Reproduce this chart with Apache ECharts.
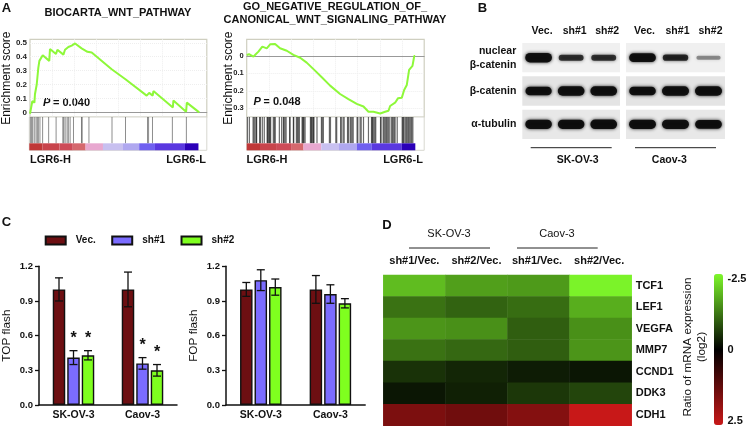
<!DOCTYPE html>
<html><head><meta charset="utf-8">
<style>html,body{margin:0;padding:0;background:#fff}#c{width:748px;height:427px;filter:blur(0.3px)}</style>
<script src="https://cdn.jsdelivr.net/npm/echarts@6/dist/echarts.min.js"></script>
</head><body><div id="c"></div>
<script>
// ---------- Panel A data ----------
const wntRank = [0,0.9,1.3,2.5,2.8,3.4,3.8,4.3,4.7,5.3,6.4,7.2,10.9,11.3,14.7,15.5,18.9,19.8,21.7,23.6,25.5,29.2,32.5,34.9,46.2,53.8,66,67.4,69.4,69.8,80.8,81.1,88.3,88.7,95.7];
const wntES   = [-0.01,-0.01,0.08,0.07,0.13,0.13,0.2,0.2,0.32,0.37,0.36,0.41,0.37,0.455,0.42,0.45,0.415,0.45,0.47,0.48,0.495,0.46,0.435,0.43,0.31,0.24,0.12,0.14,0.12,0.153,0.035,0.085,0.005,0.07,0];
const wntHits = [0.6,1.3,1.9,2.8,3.8,4.5,5.1,6,7.5,10.9,15.1,18.9,19.4,20.2,21.3,22,23,24.9,29.4,29.8,33.6,46.6,54.2,66.6,67.2,69.4,80.6,88.5];
const wntStrip = [[0,7.5,8],[7.5,17,7.5],[17,24.5,7.2],[24.5,31.7,6.4],[31.7,41.5,5],[41.5,52.8,4],[52.8,61.9,3],[61.9,70.8,2],[70.8,87.7,1],[87.7,95.3,0]];
const negRank = [0,1.3,2.4,3.8,5.1,6.6,8.8,11.3,13.2,16,18.8,22.6,26.3,30.1,33.8,38.5,42.3,47,52.6,57.3,62,65.8,68.6,71.4,75.2,78,79.9,80.8,83.6,85.2,87.4,88.7,90.2,91.5,93.4,94.4,94.9];
const negES   = [0.006,0.01,0,-0.004,0.01,0.025,0.054,0.044,0.067,0.069,0.044,0.03,0.006,-0.01,-0.038,-0.084,-0.122,-0.17,-0.218,-0.247,-0.275,-0.29,-0.32,-0.32,-0.33,-0.32,-0.314,-0.287,-0.268,-0.243,-0.239,-0.195,-0.166,-0.08,-0.057,0,0];
const negHits = [0.4,1.5,3.6,4.1,4.7,5.4,5.6,7.3,7.7,8.8,9.9,11.5,11.8,12.2,12.8,13.1,13.5,15,15.6,16.1,18.4,19.7,20.7,21,21.6,22.2,24.2,24.4,26.3,26.5,28,28.6,29.1,29.7,31.2,31.6,31.9,32.3,32.9,35.9,36.3,36.6,37.2,37.6,37.9,39.6,42.1,42.6,43.2,46.6,47.2,50.2,50.7,53,53.2,54.3,54.9,56.8,57.3,58.3,58.8,59.4,60,62.2,62.6,63.9,64.5,65.8,68.6,70.3,70.7,71,71.6,72.2,72.7,75.4,75.7,76.9,77.4,78,78.6,79.1,79.7,80.3,81.4,82,82.5,83.1,83.6,84.8,87.6,88,88.3,89.1,89.7,90.2,90.8,91.3,91.9,92.5,93,93.6];
const negStrip = [[0,7.5,8],[7.5,17,7.5],[17,25,7.2],[25,32,6.4],[32,42,5],[42,52,4],[52,62,3],[62,70.5,2],[70.5,87.4,1],[87.4,95,0]];

// ---------- Panel B data ----------
const lanes = ['Vec.','sh#1','sh#2'];
const blotRows = ['nuclear\nβ-catenin','β-catenin','α-tubulin'];
const skovBands = [[1,0.45,0.45],[0.85,1,1],[0.95,0.95,1]];
const caovBands = [[0.9,0.5,0.15],[0.85,1,1],[0.95,0.95,0.9]];

// ---------- Panel C data ----------
const cellLines = ['SK-OV-3','Caov-3'];
const groups = ['Vec.','sh#1','sh#2'];
const topMean = [[1,1],[0.41,0.36],[0.43,0.30]];
const topErr  = [[0.10,0.15],[0.06,0.05],[0.04,0.05]];
const topStar = [[0,0],[1,1],[1,1]];
const fopMean = [[1,1],[1.08,0.96],[1.02,0.88]];
const fopErr  = [[0.06,0.12],[0.09,0.08],[0.07,0.04]];

// ---------- Panel D data ----------
const heatCols = ['sh#1/Vec.','sh#2/Vec.','sh#1/Vec. ','sh#2/Vec. '];
const heatGenes = ['TCF1','LEF1','VEGFA','MMP7','CCND1','DDK3','CDH1'];
const heatVals = [
 [-1.9,-1.6,-1.55,-2.45],
 [-1.15,-1.0,-1.1,-1.75],
 [-1.5,-1.45,-0.95,-1.45],
 [-1.15,-1.05,-0.95,-1.5],
 [-0.5,-0.38,-0.28,-0.22],
 [-0.22,-0.32,-0.55,-0.7],
 [1.55,1.4,1.65,2.5]];

// ---------- Styling ----------
const FF = '"Liberation Sans", Arial, sans-serif';
const BLACK = '#111';
const LIME = '#8ef83a';
const barColors = ['#6d0f12','#7b6cff','#7fff1f'];
const stripColors = ['#2b00b8','#5a38e0','#7060f0','#b0a8f0','#c8c0f0','#e8a8d0','#d87878','#d05060','#c03838'];

const grids = [], xAxes = [], yAxes = [], series = [], graphics = [];
function addGrid(g, x, y){ grids.push(Object.assign({containLabel:false}, g)); const i = grids.length-1;
  xAxes.push(Object.assign({gridIndex:i}, x)); yAxes.push(Object.assign({gridIndex:i}, y)); return i; }
function txt(text,x,y,font,opt){ graphics.push({type:'text',x,y,rotation:(opt&&opt.rot)||0,silent:true,
  style:{text,x:0,y:0,font:font+' '+FF,fill:(opt&&opt.fill)||BLACK,textAlign:(opt&&opt.align)||'center',textVerticalAlign:'middle'}}); }
function rule(x1,x2,y){ graphics.push({type:'line',silent:true,shape:{x1,y1:y,x2,y2:y},style:{stroke:'#222',lineWidth:1}}); }

// Panel A
const stripSeries = [];
function gsea(left,gap,tickSize,hitStroke,hitWidth,yMin,yMax,ticks,rank,es,hits,strip,fmt){
  const W = 177.5;
  const g = addGrid({left,top:39.3,width:W,height:77.7,show:true,borderColor:'#cfcfc0',borderWidth:1.2,backgroundColor:'#fff'},
    {type:'value',min:0,max:100,interval:12.5,axisLabel:{show:false},axisTick:{show:false},
     axisLine:{show:true,onZero:true,lineStyle:{color:'#999',width:1}},
     splitLine:{show:true,showMinLine:false,showMaxLine:false,lineStyle:{color:'#eeeeee',type:'dotted'}}},
    {type:'value',min:yMin,max:yMax,name:'Enrichment score',nameLocation:'middle',nameGap:gap,nameMoveOverlap:false,
     nameTextStyle:{fontFamily:FF,fontSize:12,fontWeight:500,color:BLACK},
     axisLine:{show:false},axisTick:{show:false},
     axisLabel:{customValues:ticks,fontFamily:FF,fontSize:tickSize,fontWeight:'bold',color:'#222',margin:3,formatter:fmt},
     splitLine:{show:true,showMinLine:false,showMaxLine:false,lineStyle:{color:'#eeeeee',type:'dotted'}}});
  series.push({type:'line',xAxisIndex:g,yAxisIndex:g,data:rank.map((r,i)=>[r,es[i]]),symbol:'none',
    lineStyle:{color:LIME,width:2},z:5,silent:true,animation:false});
  const g2 = addGrid({left,top:117,width:W,height:33.3,show:true,borderColor:'#d8d8d0',borderWidth:1,backgroundColor:'#fff'},
    {type:'value',min:0,max:100,show:false},{type:'value',min:0,max:1,show:false});
  series.push({type:'custom',xAxisIndex:g2,yAxisIndex:g2,data:hits.map(h=>[h]),silent:true,animation:false,
    renderItem(p,api){const a=api.coord([api.value(0),1]),b=api.coord([api.value(0),0.21]);
      return {type:'line',shape:{x1:a[0],y1:a[1],x2:b[0],y2:b[1]},style:{stroke:hitStroke,lineWidth:hitWidth}};}});
  series.push({type:'custom',xAxisIndex:g2,yAxisIndex:g2,data:strip,silent:true,animation:false,encode:{x:[0,1]},
    renderItem(p,api){const a=api.coord([api.value(0),0.21]),b=api.coord([api.value(1),0]);
      return {type:'rect',shape:{x:a[0],y:a[1],width:b[0]-a[0],height:b[1]-a[1]},style:{fill:api.visual('color')}};}});
  stripSeries.push(series.length-1);
}
gsea(29.3,17,8,'rgba(30,30,30,0.5)',1,-0.0335,0.525,[0,0.1,0.2,0.3,0.4,0.5],wntRank,wntES,wntHits,wntStrip,v=>String(v));
gsea(246.7,12.5,7.5,'rgba(15,15,15,0.62)',1.2,-0.35,0.0957,[0,-0.1,-0.2,-0.3],negRank,negES,negHits,negStrip,v=>String(Math.abs(v)));

// Panel B
function blot(left,width,bands,showRows){
  const g = addGrid({left,top:41,width,height:100},
    {type:'category',position:'top',data:lanes,axisLine:{show:false},axisTick:{show:false},
     axisLabel:{fontFamily:FF,fontSize:10.5,fontWeight:'bold',color:BLACK,margin:4,padding:[0,0,0,showRows?7:4]}},
    {type:'category',inverse:true,data:blotRows,axisLine:{show:false},axisTick:{show:false},
     axisLabel:{show:showRows,fontFamily:FF,fontSize:10.5,fontWeight:'bold',color:BLACK,margin:6,lineHeight:14,align:'right'}});
  const pts=[]; bands.forEach((r,ri)=>r.forEach((s,li)=>pts.push([li,ri,s])));
  const bgs=['#f0f0f0','#e4e4e4','#e8e8e8'];
  series.push({type:'custom',xAxisIndex:g,yAxisIndex:g,data:bgs.map((c,i)=>[0,i]),silent:true,animation:false,clip:false,
    renderItem(p,api){const c=api.coord([0,api.value(1)]);
      return {type:'rect',shape:{x:left,y:c[1]-14.7,width,height:29.4},style:{fill:bgs[p.dataIndex]}};}});
  series.push({type:'custom',xAxisIndex:g,yAxisIndex:g,data:pts,silent:true,animation:false,clip:false,z:3,
    renderItem(p,api){const c=api.coord([api.value(0),api.value(1)]),sz=api.size([1,1]),s=api.value(2);
      const w=sz[0]*(0.72+0.1*s),h=3+6.5*s,al=Math.min(0.95,0.22+1.2*s);
      return {type:'rect',shape:{x:c[0]-w/2,y:c[1]-h/2,width:w,height:h,r:h/2},
        style:{fill:'rgba(12,12,12,'+al+')',shadowBlur:3.5,shadowColor:'rgba(12,12,12,'+al+')'}};}});
}
blot(522.3,97.7,skovBands,true);
blot(626,99,caovBands,false);

// Panel C
function bars(left,name,mean,err,star){
  const g = addGrid({left,top:266.3,width:139.2,height:138.7},
    {type:'category',data:cellLines,axisLine:{lineStyle:{color:BLACK,width:1.5}},
     axisTick:{alignWithLabel:true,length:4,lineStyle:{color:BLACK,width:1.3}},
     axisLabel:{fontFamily:FF,fontSize:10.5,fontWeight:'bold',color:BLACK,margin:5}},
    {type:'value',min:0,max:1.2,interval:0.3,name,nameLocation:'middle',nameGap:26,
     nameTextStyle:{fontFamily:FF,fontSize:11.8,fontWeight:500,color:BLACK},
     axisLine:{show:true,lineStyle:{color:BLACK,width:1.5}},
     axisTick:{show:true,length:4,lineStyle:{color:BLACK,width:1.3}},splitLine:{show:false},
     axisLabel:{fontFamily:FF,fontSize:9.5,fontWeight:'bold',color:BLACK,margin:6,formatter:v=>v.toFixed(1)}});
  groups.forEach((gr,i)=>{
    series.push({type:'bar',name:gr,xAxisIndex:g,yAxisIndex:g,data:mean[i],barWidth:12.5,barGap:'16%',silent:true,animation:false,
      itemStyle:{color:barColors[i],borderColor:BLACK,borderWidth:1.4}});
  });
  groups.forEach((gr,i)=>{
    series.push({type:'custom',xAxisIndex:g,yAxisIndex:g,silent:true,animation:false,z:6,clip:false,
      data:mean[i].map((m,c)=>[c,m,err[i][c],star?star[i][c]:0]),
      renderItem(p,api){
        const off=(i-1)*14.5,m=api.value(1),e=api.value(2);
        const t=api.coord([api.value(0),m+e]),b=api.coord([api.value(0),m-e]);
        const x=t[0]+off,cap=4,ln={stroke:BLACK,lineWidth:1.3};
        const ch=[{type:'line',shape:{x1:x,y1:t[1],x2:x,y2:b[1]},style:ln},
          {type:'line',shape:{x1:x-cap,y1:t[1],x2:x+cap,y2:t[1]},style:ln},
          {type:'line',shape:{x1:x-cap,y1:b[1],x2:x+cap,y2:b[1]},style:ln}];
        if(api.value(3)) ch.push({type:'text',style:{text:'*',x,y:t[1]-12,font:'bold 16px '+FF,fill:BLACK,textAlign:'center',textVerticalAlign:'middle'}});
        return {type:'group',children:ch};
      }});
  });
}
bars(37.8,'TOP flash',topMean,topErr,topStar);
bars(226,'FOP flash',fopMean,fopErr,null);

// Panel D
const hg = addGrid({left:383.3,top:275,width:248.4,height:150.7},
  {type:'category',position:'top',data:heatCols,axisLine:{show:false},axisTick:{show:false},splitLine:{show:false},
   axisLabel:{interval:0,fontFamily:FF,fontSize:11,fontWeight:'bold',color:BLACK,margin:9}},
  {type:'category',position:'right',inverse:true,data:heatGenes,axisLine:{show:false},axisTick:{show:false},splitLine:{show:false},
   axisLabel:{interval:0,fontFamily:FF,fontSize:11,fontWeight:'bold',color:BLACK,margin:4}});
const heatData=[]; heatVals.forEach((r,ri)=>r.forEach((v,ci)=>heatData.push([ci,ri,v])));
series.push({type:'heatmap',xAxisIndex:hg,yAxisIndex:hg,data:heatData,silent:true,animation:false,progressive:0,
  itemStyle:{borderWidth:0},emphasis:{disabled:true}});
const heatIdx = series.length-1;

// Text annotations
const bold13='bold 13px', bold11='bold 11px';
txt('A',6.5,8,bold13); txt('B',482.5,8,bold13); txt('C',6.5,222,bold13); txt('D',387,225,bold13);
txt('BIOCARTA_WNT_PATHWAY',118,13,bold11);
txt('GO_NEGATIVE_REGULATION_OF_',335,7,bold11);
txt('CANONICAL_WNT_SIGNALING_PATHWAY',335,19.5,bold11);
txt('LGR6-H',50.5,160,bold11); txt('LGR6-L',186,160,bold11);
txt('LGR6-H',267,160,bold11); txt('LGR6-L',403,160,bold11);
txt('P',43,103,'italic bold 11px',{align:'left'}); txt('= 0.040',53,103,bold11,{align:'left'});
txt('P',253.5,102,'italic bold 11px',{align:'left'}); txt('= 0.048',263.5,102,bold11,{align:'left'});
rule(530.7,611.7,147.7); rule(635,716,147.7);
txt('SK-OV-3',577.7,160,'bold 10.5px'); txt('Caov-3',669.3,160,'bold 10.5px');
rule(409,490,248); rule(517,597.7,248);
txt('SK-OV-3',449,234,'11px'); txt('Caov-3',557,234,'11px');
txt('Ratio of mRNA expression',687.7,347,'11.8px',{rot:Math.PI/2});
txt('(log2)',702,347,'11.8px',{rot:Math.PI/2});
txt('-2.5',727.5,279,bold11,{align:'left'}); txt('0',727.5,350,bold11,{align:'left'}); txt('2.5',727.5,421,bold11,{align:'left'});

const chart = echarts.init(document.getElementById('c'),null,{renderer:'canvas'});
chart.setOption({
  animation:false,backgroundColor:'#fff',
  grid:grids,xAxis:xAxes,yAxis:yAxes,series,
  legend:{left:44.7,top:235.5,padding:0,icon:'rect',itemWidth:20,itemHeight:8,itemGap:15.5,selectedMode:false,data:groups,
    textStyle:{fontFamily:FF,fontSize:10,fontWeight:'bold',color:BLACK,padding:[0,0,0,5]}},
  visualMap:[
    {type:'continuous',seriesIndex:heatIdx,min:-2.5,max:2.5,inverse:true,calculable:false,hoverLink:false,
     left:714,top:274,padding:0,itemWidth:9,itemHeight:151,text:null,showLabel:false,textStyle:{fontSize:0},
     inRange:{color:['#7ef82a','#000000','#c81818']},dimension:2},
    {type:'continuous',show:false,seriesIndex:stripSeries,min:0,max:8,dimension:2,inRange:{color:stripColors}}
  ],
  graphic:graphics
});
</script></body></html>
